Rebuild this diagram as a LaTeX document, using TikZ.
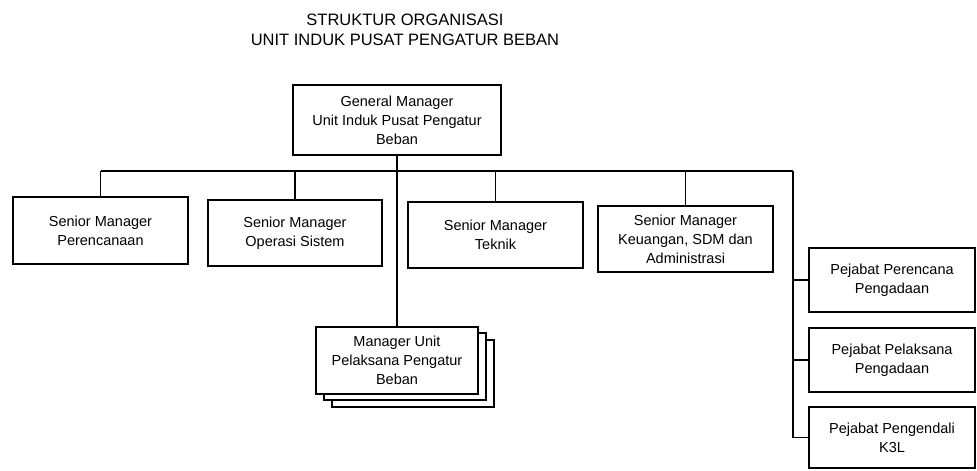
\documentclass[tikz,border=0pt]{standalone}
\usepackage{fontspec}
\setmainfont{Liberation Sans}
\begin{document}
\begin{tikzpicture}[x=1pt,y=-1pt]
\tikzstyle{every node}+=[inner sep=0pt]
\tikzstyle{box}=[draw=black, line width=1.2pt, fill=white, align=center, font=\fontsize{14.5}{19}\selectfont]
\useasboundingbox (0,0) rectangle (977,471);
\fill [white] (0,0) rectangle (977,471);
\draw (405,30) node [align=center, font=\fontsize{16.5}{20}\selectfont] (title) {STRUKTUR ORGANISASI\\UNIT INDUK PUSAT PENGATUR BEBAN};
\draw (397,120) node [box, minimum width=208, minimum height=70] (gm) {General Manager\\Unit Induk Pusat Pengatur\\Beban};
\draw (100.5,230.5) node [box, minimum width=175, minimum height=67] (smA) {Senior Manager\\Perencanaan};
\draw (295,233) node [box, minimum width=174, minimum height=66] (smB) {Senior Manager\\Operasi Sistem};
\draw (495.5,235) node [box, minimum width=175, minimum height=66] (smC) {Senior Manager\\Teknik};
\draw (685.5,239) node [box, minimum width=175, minimum height=66] (smD) {Senior Manager\\Keuangan, SDM dan\\Administrasi};
\draw (413,373.5) node [box, minimum width=162, minimum height=67] (mu3) {};
\draw (405,366.5) node [box, minimum width=162, minimum height=67] (mu2) {};
\draw (397,360.5) node [box, minimum width=162, minimum height=67] (mu) {Manager Unit\\Pelaksana Pengatur\\Beban};
\draw (892,280) node [box, minimum width=166, minimum height=64] (pjA) {Pejabat Perencana\\Pengadaan};
\draw (892,360) node [box, minimum width=166, minimum height=64] (pjB) {Pejabat Pelaksana\\Pengadaan};
\draw (892,437.5) node [box, minimum width=166, minimum height=61] (pjC) {Pejabat Pengendali\\K3L};
\coordinate (busL) at (100.5,171);
\coordinate (busR) at (793,171);
\draw [black, line width=1.2pt] (gm.south) -- (gm.south |- mu.north);
\draw [black, line width=1.2pt] (busL) -- (busR);
\draw [black, line width=1.2pt] (smA.north) -- (smA.north |- busL);
\draw [black, line width=1.2pt] (smB.north) -- (smB.north |- busL);
\draw [black, line width=1.2pt] (smC.north) -- (smC.north |- busL);
\draw [black, line width=1.2pt] (smD.north) -- (smD.north |- busL);
\draw [black, line width=1.2pt] (busR) |- (pjC.west);
\draw [black, line width=1.2pt] (pjA.west) -- (pjA.west -| busR);
\draw [black, line width=1.2pt] (pjB.west) -- (pjB.west -| busR);
\end{tikzpicture}
\end{document}
